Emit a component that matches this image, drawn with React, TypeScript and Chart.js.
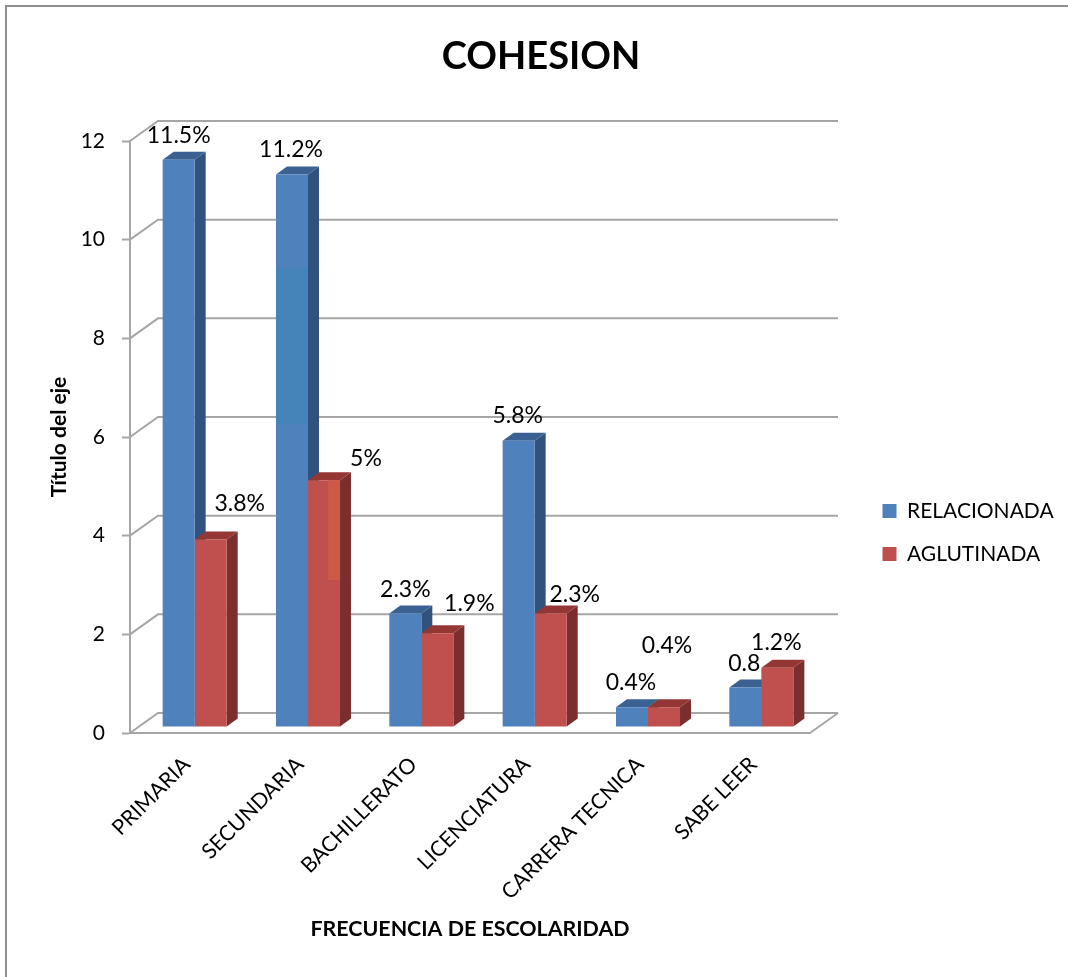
import React, { useEffect, useRef } from "react";
import { Chart, registerables } from "chart.js";

Chart.register(...registerables);

// Series and labels
const categories = ["PRIMARIA", "SECUNDARIA", "BACHILLERATO", "LICENCIATURA", "CARRERA TECNICA", "SABE LEER"];
const relacionada = [11.5, 11.2, 2.3, 5.8, 0.4, 0.8];
const aglutinada = [3.8, 5, 1.9, 2.3, 0.4, 1.2];
const relacionadaLabels = ["11.5%", "11.2%", "2.3%", "5.8%", "0.4%", "0.8"];
const aglutinadaLabels = ["3.8%", "5%", "1.9%", "2.3%", "0.4%", "1.2%"];

// Where each value label sits relative to the top centre of its bar
const relacionadaLabelOffsets = [[0, -24], [-1, -25], [0, -24], [-1, -25], [-1, -25], [-1, -24]];
const aglutinadaLabelOffsets = [[29, -36], [42, -22], [32, -30], [24, -19], [3, -62], [-1, -25]];

// Tinted stretches of two bars: [category index, lower value, upper value]
const relacionadaTint = [1, 6.14, 9.3];
const aglutinadaTint = [1, 2.98, 5];

const FONT = "Lato, 'Open Sans', sans-serif";
const GRID = "#a6a6a6";
const WALL_DX = 28;
const WALL_DY = 20;
const BAR_DX = 8;
const BAR_DY = 6;
const SIDE_DX = 11;
const SIDE_DY = 8;

const faces = [
  { side: "#31527f", top: "#3a6191", tint: "#4484b8", sideTint: "#2f5a80" },
  { side: "#7a2f2e", top: "#943634", tint: "#cc5a46", sideTint: "#7a2f2e" },
];

const fillPoly = (ctx: CanvasRenderingContext2D, pts: number[][], color: string) => {
  ctx.fillStyle = color;
  ctx.beginPath();
  pts.forEach(([x, y], i) => (i ? ctx.lineTo(x, y) : ctx.moveTo(x, y)));
  ctx.closePath();
  ctx.fill();
};

const barBox = (el: any) => ({
  left: el.x - el.width / 2,
  right: el.x + el.width / 2,
  top: el.y,
  base: el.base,
});

// Chart frame, receding walls, and the depth faces of the columns
const depthPlugin = {
  id: "depth",
  afterLayout(chart: any) {
    chart.legend.left = 860.5;
    chart.legend.top += 44;
    chart.legend.bottom += 44;
  },
  beforeDraw(chart: any) {
    const { ctx } = chart;
    ctx.save();
    ctx.strokeStyle = "#8f8f8f";
    ctx.lineWidth = 2;
    ctx.beginPath();
    ctx.moveTo(6, 977);
    ctx.lineTo(6, 6);
    ctx.lineTo(1068, 6);
    ctx.stroke();
    ctx.restore();
  },
  beforeDatasetsDraw(chart: any) {
    const { ctx, chartArea, scales } = chart;
    ctx.save();
    ctx.strokeStyle = GRID;
    ctx.lineWidth = 2;
    scales.y.ticks.forEach((t: any) => {
      const y = scales.y.getPixelForValue(t.value);
      ctx.beginPath();
      ctx.moveTo(chartArea.left, y);
      ctx.lineTo(chartArea.left + WALL_DX, y - WALL_DY);
      ctx.lineTo(chartArea.right + WALL_DX, y - WALL_DY);
      ctx.stroke();
    });
    ctx.beginPath();
    ctx.moveTo(chartArea.right, chartArea.bottom);
    ctx.lineTo(chartArea.right + WALL_DX, chartArea.bottom - WALL_DY);
    ctx.stroke();
    ctx.restore();

    // Columns stand part way into the floor; this translate is undone after they are drawn
    ctx.save();
    ctx.translate(BAR_DX, -BAR_DY);
    [0, 1].forEach((d) => {
      chart.getDatasetMeta(d).data.forEach((el: any) => {
        const b = barBox(el);
        fillPoly(ctx, [[b.right, b.top], [b.right + SIDE_DX, b.top - SIDE_DY], [b.right + SIDE_DX, b.base - SIDE_DY], [b.right, b.base]], faces[d].side);
        fillPoly(ctx, [[b.left, b.top], [b.right, b.top], [b.right + SIDE_DX, b.top - SIDE_DY], [b.left + SIDE_DX, b.top - SIDE_DY]], faces[d].top);
      });
    });
  },
  afterDatasetsDraw(chart: any) {
    const { ctx, scales } = chart;
    const yAt = (v: number) => scales.y.getPixelForValue(v);

    const blue = barBox(chart.getDatasetMeta(0).data[relacionadaTint[0]]);
    ctx.fillStyle = faces[0].tint;
    ctx.fillRect(blue.left, yAt(relacionadaTint[2]), blue.right - blue.left, yAt(relacionadaTint[1]) - yAt(relacionadaTint[2]));

    const red = barBox(chart.getDatasetMeta(1).data[aglutinadaTint[0]]);
    const tintLeft = red.left + (red.right - red.left) * 0.63;
    ctx.fillStyle = faces[1].tint;
    ctx.fillRect(tintLeft, yAt(aglutinadaTint[2]), red.right - tintLeft, yAt(aglutinadaTint[1]) - yAt(aglutinadaTint[2]));
    ctx.restore();

    // Value labels
    ctx.save();
    ctx.fillStyle = "#000";
    ctx.font = `23px ${FONT}`;
    ctx.textAlign = "center";
    ctx.textBaseline = "middle";
    [
      { labels: relacionadaLabels, offs: relacionadaLabelOffsets },
      { labels: aglutinadaLabels, offs: aglutinadaLabelOffsets },
    ].forEach(({ labels, offs }, d) => {
      chart.getDatasetMeta(d).data.forEach((el: any, i: number) => {
        ctx.fillText(labels[i], el.x + BAR_DX + offs[i][0], el.y - BAR_DY + offs[i][1]);
      });
    });
    ctx.restore();
  },
};

export default function App() {
  const ref = useRef<HTMLCanvasElement>(null);

  useEffect(() => {
    document.body.style.margin = "0";
    const chart = new Chart(ref.current!, {
      type: "bar",
      data: {
        labels: categories,
        datasets: [
          { label: "RELACIONADA", data: relacionada, backgroundColor: "#4f81bd", clip: false as any },
          { label: "AGLUTINADA", data: aglutinada, backgroundColor: "#c0504d", clip: false as any },
        ],
      },
      options: {
        responsive: false,
        animation: false,
        events: [],
        layout: { padding: { left: 14, top: 0, right: 0, bottom: 0 } },
        datasets: { bar: { barPercentage: 1, categoryPercentage: 0.565, borderWidth: 0 } },
        plugins: {
          tooltip: { enabled: false },
          title: {
            display: true,
            text: "COHESION",
            color: "#000",
            font: { family: FONT, size: 38, weight: "bold", lineHeight: 1.2 },
            padding: { top: 34, bottom: 61.4 },
          },
          legend: {
            position: "right",
            labels: {
              boxWidth: 14,
              boxHeight: 14,
              padding: 22,
              color: "#000",
              font: { family: FONT, size: 21 },
            },
          },
        },
        scales: {
          x: {
            grid: { display: false },
            border: { display: true, color: GRID, width: 2 },
            ticks: {
              color: "#000",
              font: { family: FONT, size: 21.3 },
              minRotation: 45,
              maxRotation: 45,
              autoSkip: false,
              padding: 11,
            },
            title: {
              display: true,
              text: "FRECUENCIA DE ESCOLARIDAD",
              color: "#000",
              font: { family: FONT, size: 21.4, weight: "bold" },
              padding: { top: 0, bottom: 35 },
            },
            afterFit: (s: any) => { s.height = 244; },
          },
          y: {
            min: 0,
            max: 12,
            ticks: { stepSize: 2, color: "#000", font: { family: FONT, size: 21 }, padding: 17 },
            grid: { drawOnChartArea: false, drawTicks: true, tickLength: 8, color: GRID, tickWidth: 2 },
            border: { display: true, color: GRID, width: 2 },
            title: {
              display: true,
              text: "Título del eje",
              color: "#000",
              font: { family: FONT, size: 21, weight: "bold" },
              padding: { top: 33, bottom: 0 },
            },
            afterFit: (s: any) => { s.width = 116; },
          },
          // Empty strip that keeps the plot clear of the legend
          gutter: {
            type: "linear",
            position: "right",
            display: true,
            ticks: { display: false },
            grid: { display: false },
            border: { display: false },
            afterFit: (s: any) => { s.width = Math.max(0, 1068 - 810 - s.chart.legend.width); },
          },
        },
      } as any,
      plugins: [depthPlugin],
    });
    return () => chart.destroy();
  }, []);

  return <canvas ref={ref} width={1068} height={977} style={{ display: "block" }} />;
}
